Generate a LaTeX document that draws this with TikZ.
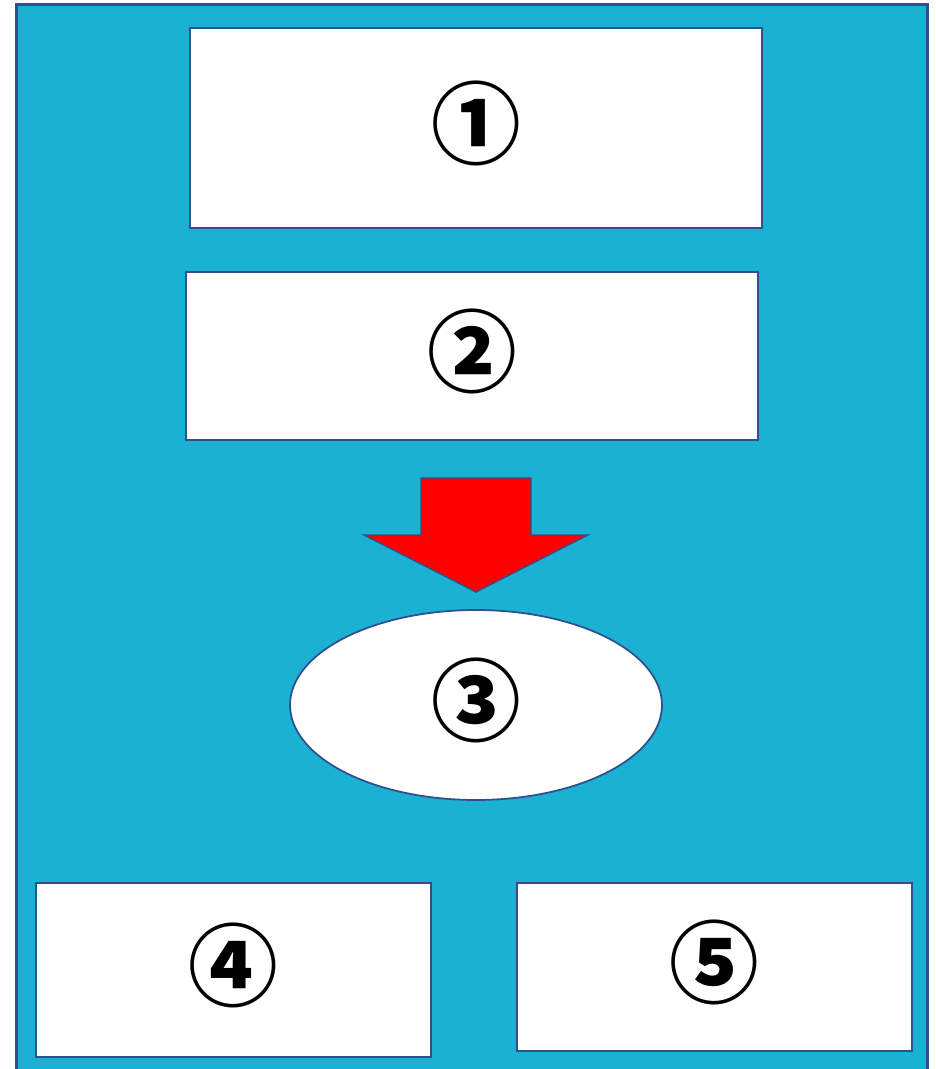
\documentclass[tikz,border=0pt]{standalone}
\usepackage{fontspec}
\newfontfamily\cjk{Noto Sans CJK JP}
\usetikzlibrary{shapes.geometric}

\definecolor{bgcyan}{HTML}{1BB1D3}
\definecolor{edgeblue}{HTML}{2F4F8F}

\tikzset{
  panel/.style={draw=edgeblue, line width=1pt, fill=white, inner sep=0pt,
    font=\cjk\bfseries\fontsize{51}{51}\selectfont},
  label/.style={font=\cjk\bfseries\fontsize{51}{51}\selectfont, inner sep=0pt},
}

\begin{document}
\begin{tikzpicture}[x=0.02cm, y=-0.02cm]
  % === canvas and background panel ===
  \useasboundingbox (0,0) rectangle (936,1069);
  \begin{scope}
    \clip (0,0) rectangle (936,1069);
    \draw[edgeblue, fill=bgcyan, line width=1.2pt] (16.5,4.5) rectangle (927.5,1100);
  \end{scope}

  % === top boxes ===
  \node[panel, minimum width=11.44cm, minimum height=4cm] (box1) at (476,128) {};
  \node[panel, minimum width=11.44cm, minimum height=3.36cm] (box2) at (472,356) {};

  % === red down arrow ===
  \fill[red, draw=edgeblue, line width=0.8pt]
    (421,478) -- (531,478) -- (531,535) -- (588,535) -- (476,592)
    -- (364,535) -- (421,535) -- cycle;

  % === ellipse ===
  \node[panel, ellipse, minimum width=7.44cm, minimum height=3.8cm] (ell3) at (476,705) {};

  % === bottom boxes ===
  \node[panel, minimum width=7.9cm, minimum height=3.48cm] (box4) at (233.5,970) {};
  \node[panel, minimum width=7.9cm, minimum height=3.36cm] (box5) at (714.5,967) {};

  % === circled numbers (placed a little above each centre) ===
  \foreach \n/\t in {box1/①, box2/②, ell3/③, box4/④, box5/⑤} {
    \node[label] (\n-text) at ([yshift=2.5pt]\n.center) {\t};
  }
\end{tikzpicture}
\end{document}
